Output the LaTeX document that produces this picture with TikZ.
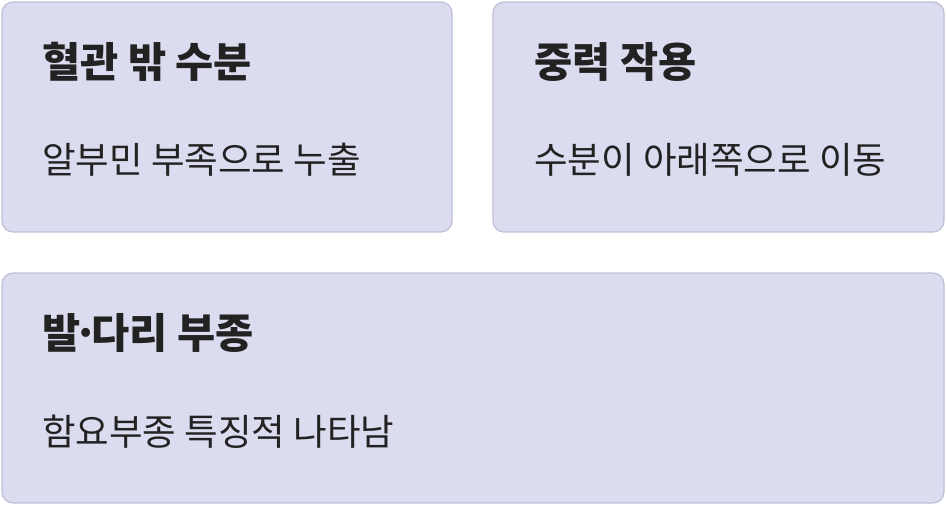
\documentclass[tikz,border=0pt]{standalone}
\usepackage{fontspec}
\setmainfont{Noto Sans CJK KR}
\usepackage{xcolor}
\usepackage{tikz}
\usetikzlibrary{positioning,calc}

\definecolor{cardfill}{HTML}{DCDCF0}
\definecolor{cardline}{HTML}{BEBED8}
\definecolor{inkdark}{HTML}{222222}

\tikzset{
  card/.style={draw=cardline,fill=cardfill,line width=1.2pt,rounded corners=11pt},
  cardtitle/.style={anchor=west,inner sep=0pt,text=inkdark,font=\fontsize{41.5}{46}\selectfont\bfseries},
  cardtext/.style={anchor=west,inner sep=0pt,text=inkdark,font=\fontsize{36.5}{42}\selectfont}
}

\begin{document}
\begin{tikzpicture}[x=1pt,y=-1pt]
\useasboundingbox (0,0) rectangle (946,508);
% the three cards
\draw[card] (2,2) rectangle (452,232);
\draw[card] (493,2) rectangle (944,232);
\draw[card] (2,273) rectangle (944,503);
% texts
\node[cardtitle] (leak) at (42,62) {혈관 밖 수분};
\node[cardtext] (leakinfo) at (42,160) {알부민 부족으로 누출};
\node[cardtitle] (grav) at (534,62) {중력 작용};
\node[cardtext] (gravinfo) at (534,160) {수분이 아래쪽으로 이동};
\node[cardtitle] (edema) at (42,333) {발\kern-.17em·\kern-.17em다리 부종};
\node[cardtext] (edemainfo) at (42,432) {함요부종 특징적 나타남};
\end{tikzpicture}
\end{document}
